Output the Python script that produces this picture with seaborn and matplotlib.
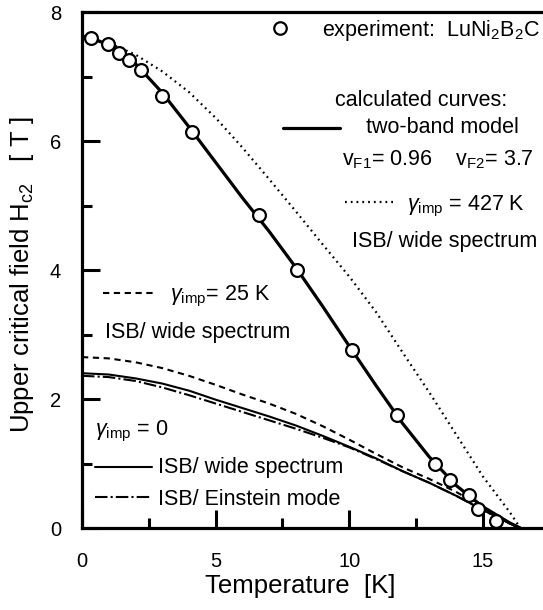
import seaborn as sns
import matplotlib.pyplot as plt
import pandas as pd

# experiment: LuNi2B2C
exp_T = [0.32, 0.99, 1.40, 1.77, 2.19, 2.98, 4.13, 6.62, 8.06, 10.09, 11.77, 13.21, 13.77, 14.49, 14.83, 15.51]
exp_H = [7.59, 7.50, 7.36, 7.25, 7.10, 6.70, 6.14, 4.85, 4.00, 2.76, 1.75, 1.00, 0.75, 0.51, 0.30, 0.11]

# calculated curves
T_grid = [0, 1, 2, 3, 4, 5, 6, 7, 8, 9, 10, 11, 12, 13, 14, 15, 16, 16.4]
H_twoband = [7.63, 7.50, 7.20, 6.75, 6.22, 5.67, 5.12, 4.60, 4.04, 3.44, 2.82, 2.21, 1.62, 1.10, 0.66, 0.33, 0.08, 0.0]
H_g427 = [7.62, 7.52, 7.34, 7.08, 6.76, 6.36, 5.90, 5.41, 4.91, 4.40, 3.90, 3.35, 2.72, 2.10, 1.45, 0.80, 0.25, 0.0]
H_g25 = [2.65, 2.63, 2.57, 2.48, 2.36, 2.22, 2.07, 1.93, 1.77, 1.58, 1.37, 1.15, 0.94, 0.76, 0.56, 0.32, 0.08, 0.0]
H_g0_wide = [2.40, 2.38, 2.32, 2.24, 2.13, 1.99, 1.86, 1.73, 1.59, 1.43, 1.26, 1.08, 0.88, 0.70, 0.50, 0.28, 0.07, 0.0]
H_g0_einstein = [2.36, 2.34, 2.28, 2.18, 2.06, 1.93, 1.80, 1.67, 1.54, 1.40, 1.25, 1.07, 0.88, 0.70, 0.50, 0.28, 0.07, 0.0]

x_ticks = [0, 5, 10, 15]
y_ticks = [0, 2, 4, 6, 8]

sns.set_style("ticks")
plt.rcParams['font.family'] = ['Liberation Sans', 'DejaVu Sans']
plt.rcParams['mathtext.fontset'] = 'custom'
plt.rcParams['mathtext.rm'] = 'Liberation Sans'
plt.rcParams['mathtext.it'] = 'Liberation Sans:italic'
for key in ['text.color', 'axes.labelcolor', 'xtick.color', 'ytick.color', 'axes.edgecolor']:
    plt.rcParams[key] = 'black'

fig = plt.figure(figsize=(5.43, 6.10), dpi=100)
ax = fig.add_axes([0.151, 0.1344, 0.849, 0.8459])

df = pd.DataFrame({'T': T_grid, 'twoband': H_twoband, 'g427': H_g427,
                   'g25': H_g25, 'g0w': H_g0_wide, 'g0e': H_g0_einstein})

sns.lineplot(data=df, x='T', y='g427', ax=ax, color='k', lw=1.6, linestyle=(0, (0.8, 1.8)), sort=False)
sns.lineplot(data=df, x='T', y='g25', ax=ax, color='k', lw=1.5, linestyle=(0, (3, 2.2)), sort=False)
sns.lineplot(data=df, x='T', y='g0e', ax=ax, color='k', lw=1.5, linestyle=(0, (6, 1.5, 1, 1.5)), sort=False)
sns.lineplot(data=df, x='T', y='g0w', ax=ax, color='k', lw=1.5, sort=False)
sns.lineplot(data=df, x='T', y='twoband', ax=ax, color='k', lw=2.3, sort=False)
sns.scatterplot(x=exp_T, y=exp_H, ax=ax, s=85, facecolor='white', edgecolor='k', linewidth=1.6, zorder=5)

ax.set_xlim(0, 17.25)
ax.set_ylim(0, 8)
ax.set_xticks(x_ticks)
ax.set_yticks(y_ticks)
ax.set_xticks([2.5, 7.5, 12.5], minor=True)
ax.set_yticks([1, 3, 5, 7], minor=True)
ax.tick_params(which='major', direction='in', length=13, width=2.2, labelsize=14.5)
ax.tick_params(which='minor', direction='in', length=7, width=2.2)
ax.tick_params(axis='x', which='major', pad=17)
ax.tick_params(axis='y', which='major', pad=15)
ax.spines['right'].set_visible(False)
for s in ['left', 'bottom', 'top']:
    ax.spines[s].set_linewidth(2.3)

ax.set_xlabel("Temperature  [K]", fontsize=18.5)
ax.set_ylabel("Upper critical field H$_{\\rm c2}$   [ T ]", fontsize=18.5)
ax.xaxis.set_label_coords(0.473, -0.09)
ax.yaxis.set_label_coords(-0.10, 0.49)

tr = ax.transAxes
fs = 15.5
# top right annotations
ax.plot([0.4295], [0.969], 'o', ms=9, mfc='white', mec='k', mew=1.6, transform=tr, clip_on=False)
ax.text(0.5206, 0.953, "experiment:  LuNi$_2$B$_2$C", transform=tr, fontsize=fs, va='baseline')
ax.text(0.7354, 0.818, "calculated curves:", transform=tr, fontsize=fs, va='baseline', ha='center')
ax.plot([0.436, 0.560], [0.776, 0.776], color='k', lw=2.3, transform=tr)
ax.text(0.616, 0.765, "two-band model", transform=tr, fontsize=fs, va='baseline')
ax.text(0.564, 0.7035, "v$_{\\rm F1}$= 0.96    v$_{\\rm F2}$= 3.7", transform=tr, fontsize=fs, va='baseline')
ax.plot([0.5705, 0.679], [0.632, 0.632], color='k', lw=1.6, linestyle=(0, (0.8, 1.8)), transform=tr)
ax.text(0.705, 0.616, "$\\gamma_{\\rm imp}$ = 427 K", transform=tr, fontsize=fs, va='baseline')
ax.text(0.5857, 0.545, "ISB/ wide spectrum", transform=tr, fontsize=fs, va='baseline')

# left annotations
ax.plot([0.0456, 0.158], [0.456, 0.456], color='k', lw=1.5, linestyle=(0, (3, 2.2)), transform=tr)
ax.text(0.191, 0.442, "$\\gamma_{\\rm imp}$= 25 K", transform=tr, fontsize=fs, va='baseline')
ax.text(0.050, 0.3676, "ISB/ wide spectrum", transform=tr, fontsize=fs, va='baseline')
ax.text(0.028, 0.180, "$\\gamma_{\\rm imp}$ = 0", transform=tr, fontsize=fs, va='baseline')
ax.plot([0.028, 0.152], [0.119, 0.119], color='k', lw=1.5, transform=tr)
ax.text(0.165, 0.106, "ISB/ wide spectrum", transform=tr, fontsize=fs, va='baseline')
ax.plot([0.028, 0.152], [0.060, 0.060], color='k', lw=1.5, linestyle=(0, (6, 1.5, 1, 1.5)), transform=tr)
ax.text(0.165, 0.0446, "ISB/ Einstein mode", transform=tr, fontsize=fs, va='baseline')

plt.savefig("out.png", dpi=100)
